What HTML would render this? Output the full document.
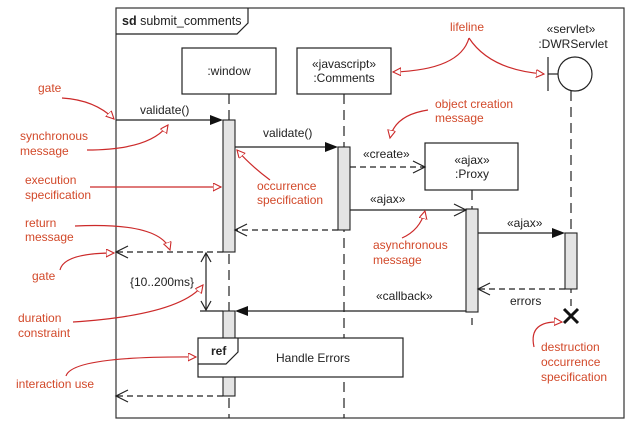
<!DOCTYPE html>
<html><head><meta charset="utf-8"><style>
html,body{margin:0;padding:0;background:#fff;}
svg{display:block;font-family:"Liberation Sans",Arial,sans-serif;}
.t{font-size:12px;fill:#222;}
.r{font-size:12px;fill:#d2492a;}
.ra{fill:none;stroke:#cc2a2a;stroke-width:1.2;}
.l{stroke:#222;stroke-width:1.2;fill:none;}
.d{stroke:#222;stroke-width:1.2;fill:none;stroke-dasharray:6,4;}
.ll{stroke:#222;stroke-width:1.2;fill:none;stroke-dasharray:10,6;}
.act{fill:#e4e4e4;stroke:#222;stroke-width:1.1;}
</style></head><body>
<svg width="626" height="429" viewBox="0 0 626 429">
<defs>
<marker id="ro" markerWidth="10" markerHeight="10" refX="8" refY="4" orient="auto" markerUnits="userSpaceOnUse"><path d="M0,0 L8,4 L0,8 Z" fill="#fff" stroke="#cc2a2a" stroke-width="1.1"/></marker>
</defs>
<rect x="116" y="8" width="508" height="410" fill="none" stroke="#333" stroke-width="1.2"/>
<path d="M116,34 L237,34 L248,23 L248,8" class="l"/>
<text x="122" y="25" class="t" style="font-size:12.5px"><tspan font-weight="bold">sd</tspan> submit_comments</text>
<rect x="182" y="48" width="94" height="46" fill="#fff" stroke="#222" stroke-width="1.2"/>
<text x="229" y="75" class="t" text-anchor="middle">:window</text>
<line x1="229" y1="94" x2="229" y2="418" class="ll"/>
<rect x="297" y="48" width="94" height="46" fill="#fff" stroke="#222" stroke-width="1.2"/>
<text x="344" y="68" class="t" text-anchor="middle">«javascript»</text>
<text x="344" y="82" class="t" text-anchor="middle">:Comments</text>
<line x1="344" y1="94" x2="344" y2="418" class="ll"/>
<rect x="425" y="143" width="93" height="47" fill="#fff" stroke="#222" stroke-width="1.2"/>
<text x="472" y="164" class="t" text-anchor="middle">«ajax»</text>
<text x="472" y="178" class="t" text-anchor="middle">:Proxy</text>
<line x1="472" y1="190" x2="472" y2="325" class="ll"/>
<text x="571" y="33" class="t" text-anchor="middle">«servlet»</text>
<text x="573" y="48" class="t" text-anchor="middle">:DWRServlet</text>
<line x1="548" y1="57" x2="548" y2="91" class="l"/>
<line x1="548" y1="74" x2="558" y2="74" class="l"/>
<circle cx="575" cy="74" r="17" fill="#fff" stroke="#222" stroke-width="1.2"/>
<line x1="571" y1="91" x2="571" y2="306" class="ll"/>
<path d="M564,309 L578,323 M578,309 L564,323" stroke="#111" stroke-width="3"/>
<rect x="223" y="120" width="12" height="132" class="act"/>
<rect x="338" y="147" width="12" height="83" class="act"/>
<rect x="466" y="209" width="12" height="103" class="act"/>
<rect x="565" y="233" width="12" height="56" class="act"/>
<rect x="223" y="311" width="12" height="85" class="act"/>
<line x1="116" y1="120" x2="212" y2="120" class="l"/><path d="M210,115 L223,120 L210,125 Z" fill="#111"/>
<text x="140" y="114" class="t">validate()</text>
<line x1="235" y1="147" x2="327" y2="147" class="l"/><path d="M325,142 L338,147 L325,152 Z" fill="#111"/>
<text x="263" y="137" class="t">validate()</text>
<line x1="350" y1="167" x2="424" y2="167" class="d"/><path d="M413,161 L425,167 L413,173" class="l"/>
<text x="363" y="158" class="t">«create»</text>
<line x1="350" y1="210" x2="465" y2="210" class="l"/><path d="M454,204 L466,210 L454,216" class="l"/>
<text x="370" y="203" class="t">«ajax»</text>
<line x1="478" y1="233" x2="554" y2="233" class="l"/><path d="M552,228 L565,233 L552,238 Z" fill="#111"/>
<text x="507" y="227" class="t">«ajax»</text>
<line x1="338" y1="230" x2="236" y2="230" class="d"/><path d="M247,224 L235,230 L247,236" class="l"/>
<line x1="223" y1="252" x2="117" y2="252" class="d"/><path d="M128,246 L116,252 L128,258" class="l"/>
<line x1="565" y1="289" x2="479" y2="289" class="d"/><path d="M490,283 L478,289 L490,295" class="l"/>
<text x="510" y="305" class="t">errors</text>
<line x1="466" y1="311" x2="246" y2="311" class="l"/><path d="M248,306 L235,311 L248,316 Z" fill="#111"/>
<text x="376" y="300" class="t">«callback»</text>
<line x1="223" y1="396" x2="117" y2="396" class="d"/><path d="M128,390 L116,396 L128,402" class="l"/>
<line x1="200" y1="311" x2="223" y2="311" class="l"/>
<line x1="206" y1="253" x2="206" y2="310" class="l"/>
<path d="M201,262 L206,253 L211,262 M201,301 L206,310 L211,301" class="l"/>
<text x="130" y="286" class="t">{10..200ms}</text>
<rect x="198" y="338" width="205" height="39" fill="#fff" stroke="#222" stroke-width="1.2"/>
<path d="M198,364 L226,364 L238,352 L238,338" class="l"/>
<text x="211" y="355" class="t" font-weight="bold">ref</text>
<text x="276" y="362" class="t">Handle Errors</text>
<g class="r">
<text x="38" y="92">gate</text>
<text x="20" y="140">synchronous</text><text x="20" y="155">message</text>
<text x="25" y="184">execution</text><text x="25" y="199">specification</text>
<text x="257" y="190">occurrence</text><text x="257" y="204">specification</text>
<text x="25" y="227">return</text><text x="25" y="241">message</text>
<text x="32" y="280">gate</text>
<text x="18" y="322">duration</text><text x="18" y="337">constraint</text>
<text x="16" y="388">interaction use</text>
<text x="450" y="31">lifeline</text>
<text x="435" y="108">object creation</text><text x="435" y="122">message</text>
<text x="373" y="249">asynchronous</text><text x="373" y="264">message</text>
<text x="541" y="351">destruction</text><text x="541" y="366">occurrence</text><text x="541" y="381">specification</text>
</g>
<path d="M62,98 Q95,100 114,119" class="ra" marker-end="url(#ro)"/>
<path d="M87,150 Q150,150 168,125" class="ra" marker-end="url(#ro)"/>
<path d="M90,187 L221,187" class="ra" marker-end="url(#ro)"/>
<path d="M270,180 Q250,165 237,150" class="ra" marker-end="url(#ro)"/>
<path d="M75,226 Q160,222 170,250" class="ra" marker-end="url(#ro)"/>
<path d="M60,270 Q64,253 114,253" class="ra" marker-end="url(#ro)"/>
<path d="M73,322 Q180,315 203,285" class="ra" marker-end="url(#ro)"/>
<path d="M66,376 Q72,356 196,357" class="ra" marker-end="url(#ro)"/>
<path d="M469,38 Q460,70 393,72" class="ra" marker-end="url(#ro)"/>
<path d="M469,38 Q490,70 544,74" class="ra" marker-end="url(#ro)"/>
<path d="M428,110 Q395,115 390,138" class="ra" marker-end="url(#ro)"/>
<path d="M402,238 Q420,230 425,211" class="ra" marker-end="url(#ro)"/>
<path d="M534,347 Q528,320 562,322" class="ra" marker-end="url(#ro)"/>
</svg>
</body></html>
